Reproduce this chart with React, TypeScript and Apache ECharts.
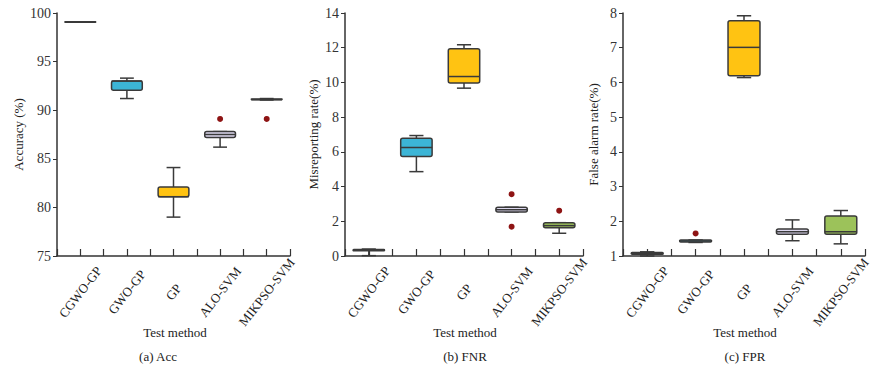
import React, { useEffect, useRef } from 'react';
import * as echarts from 'echarts';

const categories = ['CGWO-GP', 'GWO-GP', 'GP', 'ALO-SVM', 'MIKPSO-SVM'];
const boxColors = ['#D6D2E6', '#3CB5D6', '#FFC312', '#DCD7EE', '#9CC25A'];

// [min, Q1, median, Q3, max] per category
const accStats = [
  [99.1, 99.1, 99.1, 99.1, 99.1],
  [91.2, 92.05, 93.0, 93.0, 93.3],
  [79.0, 81.1, 81.1, 82.1, 84.1],
  [86.2, 87.2, 87.5, 87.8, 87.8],
  [91.05, 91.08, 91.1, 91.15, 91.2],
];
const accOutliers = [[3, 89.1], [4, 89.1]];

const fnrStats = [
  [0.02, 0.3, 0.34, 0.37, 0.4],
  [4.86, 5.73, 6.25, 6.79, 6.94],
  [9.67, 9.96, 10.34, 11.94, 12.17],
  [2.54, 2.54, 2.67, 2.81, 2.81],
  [1.31, 1.63, 1.75, 1.92, 1.92],
];
const fnrOutliers = [[3, 3.56], [3, 1.69], [4, 2.61]];

const fprStats = [
  [1.0, 1.05, 1.08, 1.1, 1.12],
  [1.39, 1.4, 1.43, 1.46, 1.46],
  [6.14, 6.19, 7.01, 7.78, 7.92],
  [1.44, 1.63, 1.7, 1.78, 2.04],
  [1.35, 1.63, 1.7, 2.15, 2.31],
];
const fprOutliers = [[1, 1.65]];

const yNames = ['Accuracy (%)', 'Misreporting rate(%)', 'False alarm rate(%)'];
const yMins = [75, 0, 1];
const yMaxs = [100, 14, 8];
const yIntervals = [5, 2, 1];
const captions = ['(a) Acc', '(b) FNR', '(c) FPR'];
const xTitle = 'Test method';

const FONT = '"Liberation Serif", "Times New Roman", serif';

const gridLefts = [57, 345, 623];
const gridWidths = [233, 238, 242];
const nameGaps = [32, 25, 23];
const xTitleX = [175, 465, 745];
const captionX = [158, 465, 745];

function renderBox(params: any, api: any) {
  const idx = api.value(0);
  const mn = api.value(1);
  const q1 = api.value(2);
  const md = api.value(3);
  const q3 = api.value(4);
  const mx = api.value(5);
  const bw = api.size([1, 0])[0] * 0.66;
  const cap = bw * 0.45;
  const pMin = api.coord([idx, mn]);
  const pQ1 = api.coord([idx, q1]);
  const pMd = api.coord([idx, md]);
  const pQ3 = api.coord([idx, q3]);
  const pMax = api.coord([idx, mx]);
  const x = pMin[0];
  const stroke = '#3a3a3a';
  const lw = 1.5;
  const lineStyle = { stroke, lineWidth: lw };
  return {
    type: 'group',
    children: [
      { type: 'line', shape: { x1: x, y1: pMin[1], x2: x, y2: pQ1[1] }, style: lineStyle },
      { type: 'line', shape: { x1: x, y1: pQ3[1], x2: x, y2: pMax[1] }, style: lineStyle },
      { type: 'line', shape: { x1: x - cap / 2, y1: pMin[1], x2: x + cap / 2, y2: pMin[1] }, style: lineStyle },
      { type: 'line', shape: { x1: x - cap / 2, y1: pMax[1], x2: x + cap / 2, y2: pMax[1] }, style: lineStyle },
      {
        type: 'rect',
        shape: { x: x - bw / 2, y: pQ3[1], width: bw, height: Math.max(pQ1[1] - pQ3[1], 0.5), r: 2 },
        style: { fill: boxColors[idx], stroke, lineWidth: lw },
      },
      { type: 'line', shape: { x1: x - bw / 2, y1: pMd[1], x2: x + bw / 2, y2: pMd[1] }, style: lineStyle },
    ],
  };
}

export default function App() {
  const ref = useRef<HTMLDivElement>(null);
  useEffect(() => {
    if (!ref.current) return;
    const chart = echarts.init(ref.current, undefined, { renderer: 'svg' });
    const statsList = [accStats, fnrStats, fprStats];
    const outList = [accOutliers, fnrOutliers, fprOutliers];

    const grid: any[] = [];
    const xAxis: any[] = [];
    const yAxis: any[] = [];
    const series: any[] = [];
    const graphic: any[] = [];

    for (let i = 0; i < 3; i++) {
      grid.push({ left: gridLefts[i], width: gridWidths[i], top: 13, height: 243 });
      xAxis.push({
        type: 'category',
        gridIndex: i,
        data: categories,
        boundaryGap: true,
        axisLine: { show: true, lineStyle: { color: '#333', width: 1.5 } },
        axisTick: { show: true, inside: true, length: 7, interval: 0, lineStyle: { color: '#333', width: 1.2 } },
        axisLabel: {
          interval: 0,
          rotate: 52,
          align: 'center',
          verticalAlign: 'middle',
          margin: 36,
          fontFamily: FONT,
          fontSize: 13,
          color: '#222',
        },
        splitLine: { show: false },
      });
      xAxis.push({
        type: 'category',
        gridIndex: i,
        data: categories,
        position: 'bottom',
        axisLine: { show: false },
        axisTick: { show: true, inside: true, length: 7, alignWithLabel: true, interval: 0, lineStyle: { color: '#333', width: 1.2 } },
        axisLabel: { show: false },
        splitLine: { show: false },
      });
      yAxis.push({
        type: 'value',
        gridIndex: i,
        min: yMins[i],
        max: yMaxs[i],
        interval: yIntervals[i],
        name: yNames[i],
        nameLocation: 'middle',
        nameGap: nameGaps[i],
        nameTextStyle: { fontFamily: FONT, fontSize: 13, color: '#222' },
        axisLine: { show: true, lineStyle: { color: '#333', width: 1.5 } },
        axisTick: { show: true, inside: false, length: 4, lineStyle: { color: '#333' } },
        axisLabel: { fontFamily: FONT, fontSize: 14, color: '#333', margin: 6 },
        splitLine: { show: false },
      });
      series.push({
        type: 'custom',
        xAxisIndex: i * 2,
        yAxisIndex: i,
        renderItem: renderBox,
        encode: { x: 0, y: [1, 2, 3, 4, 5] },
        data: statsList[i].map((s, k) => [k, ...s]),
        z: 2,
      });
      series.push({
        type: 'scatter',
        xAxisIndex: i * 2,
        yAxisIndex: i,
        data: outList[i],
        symbolSize: 6,
        itemStyle: { color: '#8E1414', opacity: 1 },
        z: 3,
      });
      graphic.push({
        type: 'text',
        x: xTitleX[i],
        y: 332,
        style: { text: xTitle, font: `13px ${FONT}`, fill: '#222', textAlign: 'center', textVerticalAlign: 'middle' },
      });
      graphic.push({
        type: 'text',
        x: captionX[i],
        y: 356,
        style: { text: captions[i], font: `13px ${FONT}`, fill: '#222', textAlign: 'center', textVerticalAlign: 'middle' },
      });
    }

    chart.setOption({
      animation: false,
      backgroundColor: '#ffffff',
      grid,
      xAxis,
      yAxis,
      series,
      graphic,
    });
    return () => chart.dispose();
  }, []);
  return (
    <div
      ref={ref}
      style={{ position: 'absolute', left: 0, top: 0, width: 877, height: 378, background: '#fff' }}
    />
  );
}
